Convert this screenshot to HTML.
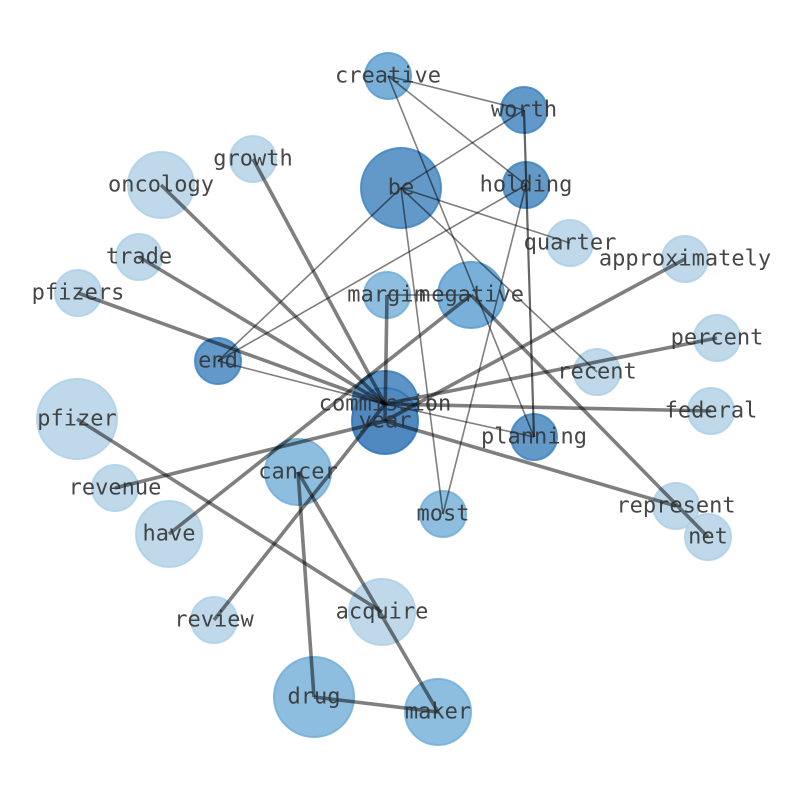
<!DOCTYPE html>
<html><head><meta charset="utf-8"><style>body{margin:0;background:#fff}svg{display:block}</style></head><body>
<svg width="794" height="790" viewBox="0 0 794 790" xmlns="http://www.w3.org/2000/svg">
<g stroke-opacity="0.85">
<circle cx="388" cy="76" r="23" fill="#79b0d9" stroke="#5a9bcf" stroke-width="2"/>
<circle cx="524" cy="110" r="23" fill="#6399c8" stroke="#3f86c2" stroke-width="2"/>
<circle cx="401" cy="188" r="40" fill="#6399c8" stroke="#3f86c2" stroke-width="2"/>
<circle cx="526" cy="185" r="23" fill="#6399c8" stroke="#3f86c2" stroke-width="2"/>
<circle cx="253" cy="159" r="23" fill="#c0d9ea" stroke="#add0e7" stroke-width="2"/>
<circle cx="161" cy="185" r="33" fill="#c0d9ea" stroke="#add0e7" stroke-width="2"/>
<circle cx="570" cy="243" r="23" fill="#c0d9ea" stroke="#add0e7" stroke-width="2"/>
<circle cx="685" cy="259" r="23" fill="#c0d9ea" stroke="#add0e7" stroke-width="2"/>
<circle cx="139" cy="257" r="23" fill="#c0d9ea" stroke="#add0e7" stroke-width="2"/>
<circle cx="78" cy="293" r="23" fill="#c0d9ea" stroke="#add0e7" stroke-width="2"/>
<circle cx="387" cy="295" r="23" fill="#8dbedf" stroke="#72aed8" stroke-width="2"/>
<circle cx="471" cy="295" r="33" fill="#79b0d9" stroke="#5a9bcf" stroke-width="2"/>
<circle cx="717" cy="338" r="23" fill="#c0d9ea" stroke="#add0e7" stroke-width="2"/>
<circle cx="218" cy="361" r="23" fill="#6399c8" stroke="#3f86c2" stroke-width="2"/>
<circle cx="597" cy="372" r="23" fill="#c0d9ea" stroke="#add0e7" stroke-width="2"/>
<circle cx="711" cy="411" r="23" fill="#c0d9ea" stroke="#add0e7" stroke-width="2"/>
<circle cx="77" cy="419" r="40" fill="#c0d9ea" stroke="#add0e7" stroke-width="2"/>
<circle cx="534" cy="437" r="23" fill="#6399c8" stroke="#3f86c2" stroke-width="2"/>
<circle cx="385" cy="404" r="33" fill="#5d94c5" stroke="#3a7fbd" stroke-width="2"/>
<circle cx="385" cy="421" r="33" fill="#4f89c0" stroke="#2f76b8" stroke-width="2"/>
<circle cx="298" cy="472" r="33" fill="#8dbedf" stroke="#72aed8" stroke-width="2"/>
<circle cx="115" cy="488" r="23" fill="#c0d9ea" stroke="#add0e7" stroke-width="2"/>
<circle cx="676" cy="506" r="23" fill="#c0d9ea" stroke="#add0e7" stroke-width="2"/>
<circle cx="708" cy="537" r="23" fill="#c0d9ea" stroke="#add0e7" stroke-width="2"/>
<circle cx="443" cy="514" r="23" fill="#8dbedf" stroke="#72aed8" stroke-width="2"/>
<circle cx="169" cy="534" r="33" fill="#c0d9ea" stroke="#add0e7" stroke-width="2"/>
<circle cx="214" cy="620" r="23" fill="#c0d9ea" stroke="#add0e7" stroke-width="2"/>
<circle cx="382" cy="612" r="33" fill="#c0d9ea" stroke="#add0e7" stroke-width="2"/>
<circle cx="314" cy="697" r="40" fill="#8dbedf" stroke="#72aed8" stroke-width="2"/>
<circle cx="438" cy="712" r="33" fill="#8dbedf" stroke="#72aed8" stroke-width="2"/>
</g>
<g stroke="#000" stroke-opacity="0.5" stroke-width="1.6" fill="none">
<line x1="388" y1="76" x2="524" y2="110"/>
<line x1="388" y1="76" x2="526" y2="185"/>
<line x1="388" y1="76" x2="534" y2="437"/>
<line x1="401" y1="188" x2="524" y2="110"/>
<line x1="401" y1="188" x2="570" y2="243"/>
<line x1="401" y1="188" x2="597" y2="372"/>
<line x1="401" y1="188" x2="443" y2="514"/>
<line x1="401" y1="188" x2="218" y2="361"/>
<line x1="526" y1="185" x2="218" y2="361"/>
<line x1="526" y1="185" x2="443" y2="514"/>
<line x1="218" y1="361" x2="385" y2="404"/>
<line x1="385" y1="404" x2="534" y2="437"/>
<line x1="387" y1="295" x2="471" y2="295"/>
<line x1="524" y1="110" x2="534" y2="437" stroke-width="2.2" stroke-opacity="0.6"/>
</g>
<g stroke="#000" stroke-opacity="0.5" stroke-width="3.6" fill="none">
<line x1="161" y1="185" x2="385" y2="404"/>
<line x1="253" y1="159" x2="385" y2="404"/>
<line x1="139" y1="257" x2="385" y2="404"/>
<line x1="78" y1="293" x2="385" y2="404"/>
<line x1="387" y1="295" x2="385" y2="421"/>
<line x1="169" y1="534" x2="471" y2="295"/>
<line x1="685" y1="259" x2="385" y2="421"/>
<line x1="717" y1="338" x2="385" y2="404"/>
<line x1="711" y1="411" x2="385" y2="404"/>
<line x1="115" y1="488" x2="385" y2="421"/>
<line x1="214" y1="620" x2="385" y2="404"/>
<line x1="385" y1="421" x2="676" y2="506"/>
<line x1="471" y1="295" x2="708" y2="537"/>
<line x1="77" y1="419" x2="382" y2="612"/>
<line x1="298" y1="472" x2="314" y2="697"/>
<line x1="298" y1="472" x2="438" y2="712"/>
<line x1="314" y1="697" x2="438" y2="712"/>
</g>
<g font-family="'DejaVu Sans Mono','Liberation Mono',monospace" font-size="22" fill="#333" fill-opacity="0.9" text-anchor="middle" dominant-baseline="central">
<text x="388" y="76">creative</text>
<text x="524" y="110">worth</text>
<text x="401" y="188">be</text>
<text x="526" y="185">holding</text>
<text x="253" y="159">growth</text>
<text x="161" y="185">oncology</text>
<text x="570" y="243">quarter</text>
<text x="685" y="259">approximately</text>
<text x="139" y="257">trade</text>
<text x="78" y="293">pfizers</text>
<text x="387" y="295">margin</text>
<text x="471" y="295">negative</text>
<text x="717" y="338">percent</text>
<text x="218" y="361">end</text>
<text x="597" y="372">recent</text>
<text x="385" y="404">commission</text>
<text x="385" y="421">year</text>
<text x="711" y="411">federal</text>
<text x="77" y="419">pfizer</text>
<text x="534" y="437">planning</text>
<text x="298" y="472">cancer</text>
<text x="115" y="488">revenue</text>
<text x="676" y="506">represent</text>
<text x="708" y="537">net</text>
<text x="443" y="514">most</text>
<text x="169" y="534">have</text>
<text x="214" y="620">review</text>
<text x="382" y="612">acquire</text>
<text x="314" y="697">drug</text>
<text x="438" y="712">maker</text>
</g>
</svg>
</body></html>
